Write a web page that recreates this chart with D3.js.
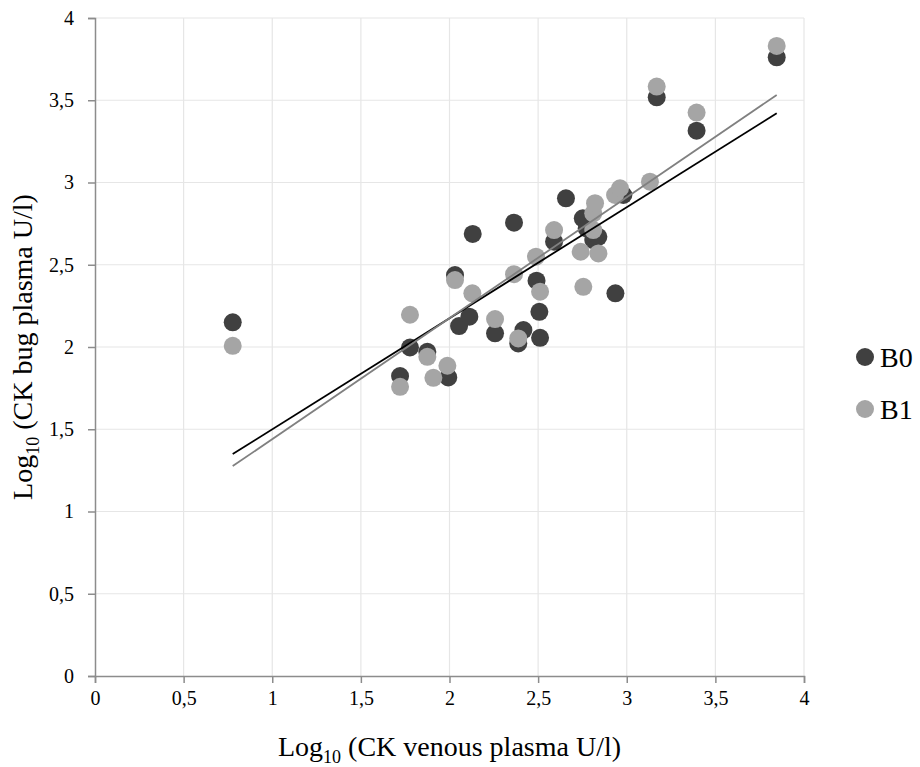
<!DOCTYPE html>
<html>
<head>
<meta charset="utf-8">
<script src="https://cdn.jsdelivr.net/npm/d3@7"></script>
<style>
  html, body { margin: 0; padding: 0; background: #fff; }
  svg text { font-family: "Liberation Serif", "Times New Roman", serif; fill: #000; }
</style>
</head>
<body>
<svg id="chart" width="920" height="767"></svg>
<script>
// ---- data (log10 values) ----
const seriesNames = ["B0", "B1"];
const b0X = [0.777, 1.721, 1.777, 1.875, 1.993, 2.031, 2.054, 2.112, 2.131, 2.257, 2.364, 2.388, 2.417, 2.491, 2.507, 2.511, 2.590, 2.657, 2.752, 2.774, 2.811, 2.840, 2.936, 2.981, 3.169, 3.394, 3.846];
const b0Y = [2.150, 1.823, 1.997, 1.971, 1.815, 2.437, 2.127, 2.184, 2.687, 2.083, 2.756, 2.022, 2.103, 2.403, 2.214, 2.056, 2.640, 2.904, 2.782, 2.721, 2.650, 2.670, 2.326, 2.924, 3.518, 3.315, 3.761];
const b1X = [0.777, 1.721, 1.777, 1.875, 1.909, 1.988, 2.031, 2.129, 2.257, 2.364, 2.388, 2.488, 2.511, 2.590, 2.740, 2.755, 2.811, 2.811, 2.821, 2.840, 2.934, 2.962, 3.131, 3.169, 3.394, 3.846];
const b1Y = [2.007, 1.758, 2.196, 1.940, 1.813, 1.886, 2.407, 2.326, 2.170, 2.443, 2.052, 2.549, 2.336, 2.711, 2.579, 2.366, 2.711, 2.813, 2.874, 2.569, 2.924, 2.965, 3.005, 3.583, 3.425, 3.830];
// linear trendlines: x range and y values at its ends
const trendX = [0.777, 3.846];
const trendB0 = [1.349, 3.421];
const trendB1 = [1.276, 3.532];
const xTicks = [0, 0.5, 1, 1.5, 2, 2.5, 3, 3.5, 4];
const yTicks = [0, 0.5, 1, 1.5, 2, 2.5, 3, 3.5, 4];
const xTitle = "CK venous plasma U/l";
const yTitle = "CK bug plasma U/l";

// ---- layout ----
const svg = d3.select("#chart");
const pL = 95, pR = 804, pT = 18, pB = 676;
const x = d3.scaleLinear().domain([0, 4]).range([pL, pR]);
const y = d3.scaleLinear().domain([0, 4]).range([pB, pT]);
const fmt = d => String(d).replace(".", ",");
const colors = { B0: "#404040", B1: "#a5a5a5" };

// gridlines
svg.append("g").selectAll("line").data(xTicks.filter(d => d > 0)).join("line")
  .attr("x1", d => x(d)).attr("x2", d => x(d)).attr("y1", pT).attr("y2", pB)
  .attr("stroke", "#e6e6e6").attr("stroke-width", 1.2);
svg.append("g").selectAll("line").data(yTicks.filter(d => d > 0)).join("line")
  .attr("x1", pL).attr("x2", pR).attr("y1", d => y(d)).attr("y2", d => y(d))
  .attr("stroke", "#e6e6e6").attr("stroke-width", 1.2);

// axes
const xAxis = svg.append("g").attr("transform", `translate(0,${pB})`)
  .call(d3.axisBottom(x).tickValues(xTicks).tickFormat(fmt).tickSize(7).tickPadding(8));
const yAxis = svg.append("g").attr("transform", `translate(${pL},0)`)
  .call(d3.axisLeft(y).tickValues(yTicks).tickFormat(fmt).tickSize(7).tickPadding(14));
[xAxis, yAxis].forEach(g => {
  g.select(".domain").attr("stroke", "#8c8c8c").attr("stroke-width", 1.5);
  g.selectAll(".tick line").attr("stroke", "#8c8c8c").attr("stroke-width", 1.5);
  g.selectAll(".tick text").attr("font-size", 20)
    .attr("font-family", "'Liberation Serif', 'Times New Roman', serif").attr("fill", "#000");
});

// points
const b0 = b0X.map((v, i) => [v, b0Y[i]]);
const b1 = b1X.map((v, i) => [v, b1Y[i]]);
svg.append("g").selectAll("circle").data(b0).join("circle")
  .attr("cx", d => x(d[0])).attr("cy", d => y(d[1])).attr("r", 9).attr("fill", colors.B0);
svg.append("g").selectAll("circle").data(b1).join("circle")
  .attr("cx", d => x(d[0])).attr("cy", d => y(d[1])).attr("r", 9).attr("fill", colors.B1);

// trendlines
const line = d3.line().x(d => x(d[0])).y(d => y(d[1]));
svg.append("path").datum(trendX.map((v, i) => [v, trendB0[i]]))
  .attr("d", line).attr("fill", "none").attr("stroke", "#000").attr("stroke-width", 1.8);
svg.append("path").datum(trendX.map((v, i) => [v, trendB1[i]]))
  .attr("d", line).attr("fill", "none").attr("stroke", "#808080").attr("stroke-width", 1.8);

// axis titles
const xt = svg.append("text").attr("x", (pL + pR) / 2).attr("y", 756)
  .attr("text-anchor", "middle").attr("font-size", 28);
xt.append("tspan").text("Log");
xt.append("tspan").attr("font-size", 18).attr("dy", 7).text("10");
xt.append("tspan").attr("dy", -7).text(" (" + xTitle + ")");

const yt = svg.append("text").attr("transform", `translate(32,${(pT + pB) / 2}) rotate(-90)`)
  .attr("text-anchor", "middle").attr("font-size", 28);
yt.append("tspan").text("Log");
yt.append("tspan").attr("font-size", 18).attr("dy", 7).text("10");
yt.append("tspan").attr("dy", -7).text(" (" + yTitle + ")");

// legend
const leg = svg.append("g").selectAll("g").data(seriesNames).join("g")
  .attr("transform", (d, i) => `translate(865,${357 + i * 52})`);
leg.append("circle").attr("r", 9).attr("fill", d => colors[d]);
leg.append("text").attr("x", 15).attr("y", 10).attr("font-size", 28).text(d => d);
</script>
</body>
</html>
